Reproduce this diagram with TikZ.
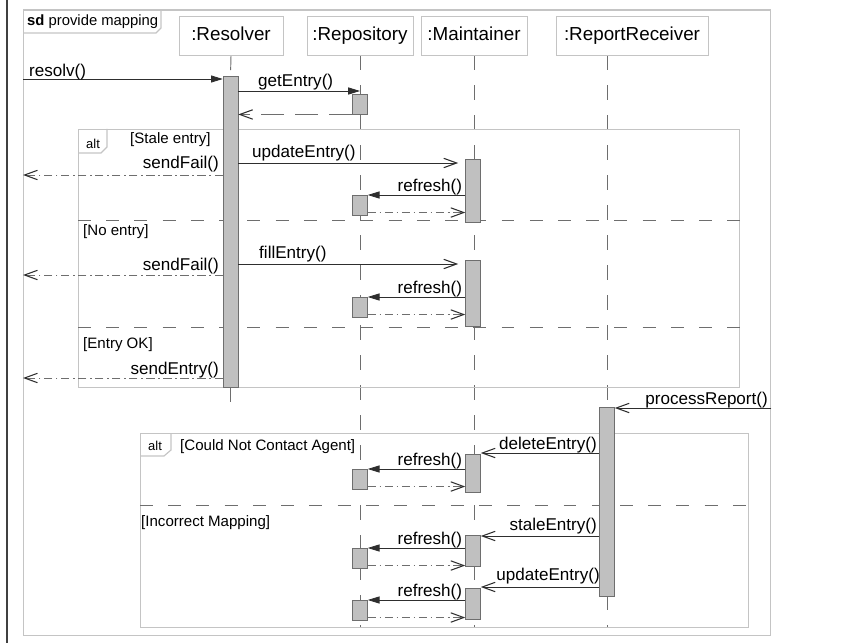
\documentclass[tikz,border=0pt]{standalone}
\usepackage{fontspec}
\setmainfont{Liberation Sans}
\usetikzlibrary{positioning,arrows.meta,backgrounds}
\definecolor{framec}{HTML}{C4C4C4}
\definecolor{linec}{HTML}{6E6E6E}
\definecolor{barc}{HTML}{C0C0C0}
\definecolor{msgc}{HTML}{2E2E2E}
\newcommand{\pxl}{0.85pt}

\begin{document}
\begin{tikzpicture}[
  x=0.85pt, y=-0.85pt,
  head/.style={draw=framec, fill=white, inner sep=0pt, line width=0.8pt,
               minimum height=39*\pxl, text height=11.5pt, text depth=3.5pt,
               font=\fontsize{16}{19}\selectfont},
  bar/.style={draw=linec, fill=barc, inner sep=0pt, anchor=north,
              minimum width=15*\pxl},
  lifeline/.style={linec, line width=0.8pt, dash pattern=on 12.5pt off 13pt},
  frame/.style={draw=framec, line width=1.2pt, inner sep=0pt, anchor=north west},
  sep/.style={linec, line width=0.8pt, dash pattern=on 11pt off 13pt},
  msg/.style={msgc, line width=0.7pt, -{Triangle[length=10pt,width=6pt]}},
  amsg/.style={msgc, line width=0.7pt,
               -{Straight Barb[length=11pt,width=8pt,line width=0.9pt]}},
  ret/.style={linec, line width=0.7pt,
              -{Straight Barb[length=11pt,width=8pt,line width=0.9pt,color=msgc]},
              dash pattern=on 7pt off 3pt on 1.5pt off 3pt},
  dret/.style={ret, dash pattern=on 20pt off 9pt},
  lbl/.style={inner sep=0pt, font=\fontsize{14.5}{17}\selectfont},
  guard/.style={inner sep=0pt, anchor=base west, font=\fontsize{12.8}{15}\selectfont},
  tabtext/.style={inner sep=0pt, anchor=base west, font=\fontsize{11}{13}\selectfont}
]
\useasboundingbox (0,0) rectangle (855,643);
\draw[black!75, line width=1pt] (7,0) -- (7,643);

% ---- frames ----
\node[frame, minimum width=747*\pxl, minimum height=625.5*\pxl] (sd) at (23,9.5) {};
\draw[framec, line width=1pt] (161,9.5) -- (161,28) -- (156,33) -- (23,33);
\node[tabtext, font=\fontsize{12.6}{15}\selectfont] (sdname) at (27,26)
  {\textbf{sd} provide mapping};

\node[frame, minimum width=661*\pxl, minimum height=258*\pxl] (alt1) at (78,129) {};
\draw[framec, line width=1pt] (107,129) -- (107,147) -- (101,153) -- (78,153);
\node[tabtext] (alt1name) at (86,148) {alt};
\draw[sep] (alt1.west |- 0,220) -- (alt1.east |- 0,220);
\draw[sep] (alt1.west |- 0,327) -- (alt1.east |- 0,327);

\node[frame, minimum width=608*\pxl, minimum height=194*\pxl] (alt2) at (140,433) {};
\draw[framec, line width=1pt] (171,433) -- (171,450) -- (164,456) -- (140,456);
\node[tabtext] (alt2name) at (148,450) {alt};
\draw[sep] (alt2.west |- 0,505) -- (alt2.east |- 0,505);

% ---- lifeline heads ----
\node[head, minimum width=104*\pxl] (resolver)   at (231,35.5) {:Resolver};
\node[head, minimum width=106*\pxl] (repository) at (360,35.5) {:Repository};
\node[head, minimum width=106*\pxl] (maintainer) at (474,35.5) {:Maintainer};
\node[head, minimum width=152*\pxl] (receiver)   at (632,35.5) {:ReportReceiver};

% ---- activation bars ----
\node[bar, minimum height=311*\pxl] (resbar) at (230.5,76) {};
\node[bar, minimum height=20*\pxl] (repbar0) at (360,94) {};
\foreach \i/\t/\h in {1/159/63, 2/260/66, 3/454/38, 4/535/31, 5/588/31}
  \node[bar, minimum height=\h*\pxl] (mbar\i) at (473,\t) {};
\foreach \i/\t in {1/195, 2/297, 3/469, 4/548, 5/600}
  \node[bar, minimum height=20*\pxl] (rbar\i) at (360,\t) {};
\node[bar, minimum height=189*\pxl] (rrbar) at (607,407) {};

\coordinate (resend) at (230.5,415);
\begin{scope}[on background layer]
  \draw[lifeline] (resolver.south) -- (resbar.north);
  \draw[lifeline] (resbar.south) -- (resend);
  \draw[lifeline] (repository.south) -- (repository.south |- alt2.south);
  \draw[lifeline] (maintainer.south) -- (maintainer.south |- alt2.south);
  \draw[lifeline] (receiver.south -| rrbar.north) -- (rrbar.north |- alt2.south);
\end{scope}

% ---- messages ----
\draw[msg] (sd.west |- 0,79) -- (resbar.west |- 0,79);
\node[lbl, anchor=base west] (resolvl) at (29,77) {resolv()};
\draw[msg] (resbar.east |- 0,91) -- (repository.south |- 0,91);
\node[lbl, anchor=base west] (getl) at (258,87) {getEntry()};
\draw[dret] (repbar0.south west) -- (resbar.east |- repbar0.south);

% Stale entry
\node[guard] (guard1) at (130,144) {[Stale entry]};
\draw[amsg, shorten >=6pt] (resbar.east |- 0,163) -- (mbar1.west |- 0,163);
\node[lbl, anchor=base west] (upd1l) at (252,158) {updateEntry()};
\draw[ret] (resbar.west |- 0,175) -- (sd.west |- 0,175);
\node[lbl, anchor=base east] (fail1l) at (219,169) {sendFail()};

% No entry
\node[guard] (guard2) at (83,235) {[No entry]};
\draw[amsg, shorten >=6pt] (resbar.east |- 0,264) -- (mbar2.west |- 0,264);
\node[lbl, anchor=base west] (filll) at (259,258) {fillEntry()};
\draw[ret] (resbar.west |- 0,275) -- (sd.west |- 0,275);
\node[lbl, anchor=base east] (fail2l) at (219,270) {sendFail()};

% Entry OK
\node[guard] (guard3) at (83,348) {[Entry OK]};
\draw[ret] (resbar.west |- 0,378) -- (sd.west |- 0,378);
\node[lbl, anchor=base east] (entryl) at (219,374) {sendEntry()};

% refresh calls, Maintainer -> Repository
\foreach \i in {1,...,5}{
  \draw[msg] (mbar\i.west |- rbar\i.north) -- (rbar\i.north east);
  \node[lbl, anchor=base east] (ref\i)
    at ([xshift=-2.5pt, yshift=3.4pt]mbar\i.west |- rbar\i.north) {refresh()};
  \draw[ret] ([yshift=2.5pt]rbar\i.south east)
    -- ([yshift=2.5pt]mbar\i.west |- rbar\i.south);
}

% report handling
\draw[amsg] (sd.east |- 0,408) -- (rrbar.east |- 0,408);
\node[lbl, anchor=base east] (procl) at (768,404) {processReport()};
\node[guard] (guard4) at (180,450) {[Could Not Contact Agent]};
\node[guard] (guard5) at (141,526) {[Incorrect Mapping]};
\draw[amsg] (rrbar.west |- 0,453) -- (mbar3.east |- 0,453);
\node[lbl, anchor=base east] (dell) at (597,449) {deleteEntry()};
\draw[amsg] (rrbar.west |- 0,536) -- (mbar4.east |- 0,536);
\node[lbl, anchor=base east] (stalel) at (597,530) {staleEntry()};
\draw[amsg] (rrbar.west |- 0,587) -- (mbar5.east |- 0,587);
\node[lbl, anchor=base east] (upd2l) at (600,580) {updateEntry()};
\end{tikzpicture}
\end{document}
